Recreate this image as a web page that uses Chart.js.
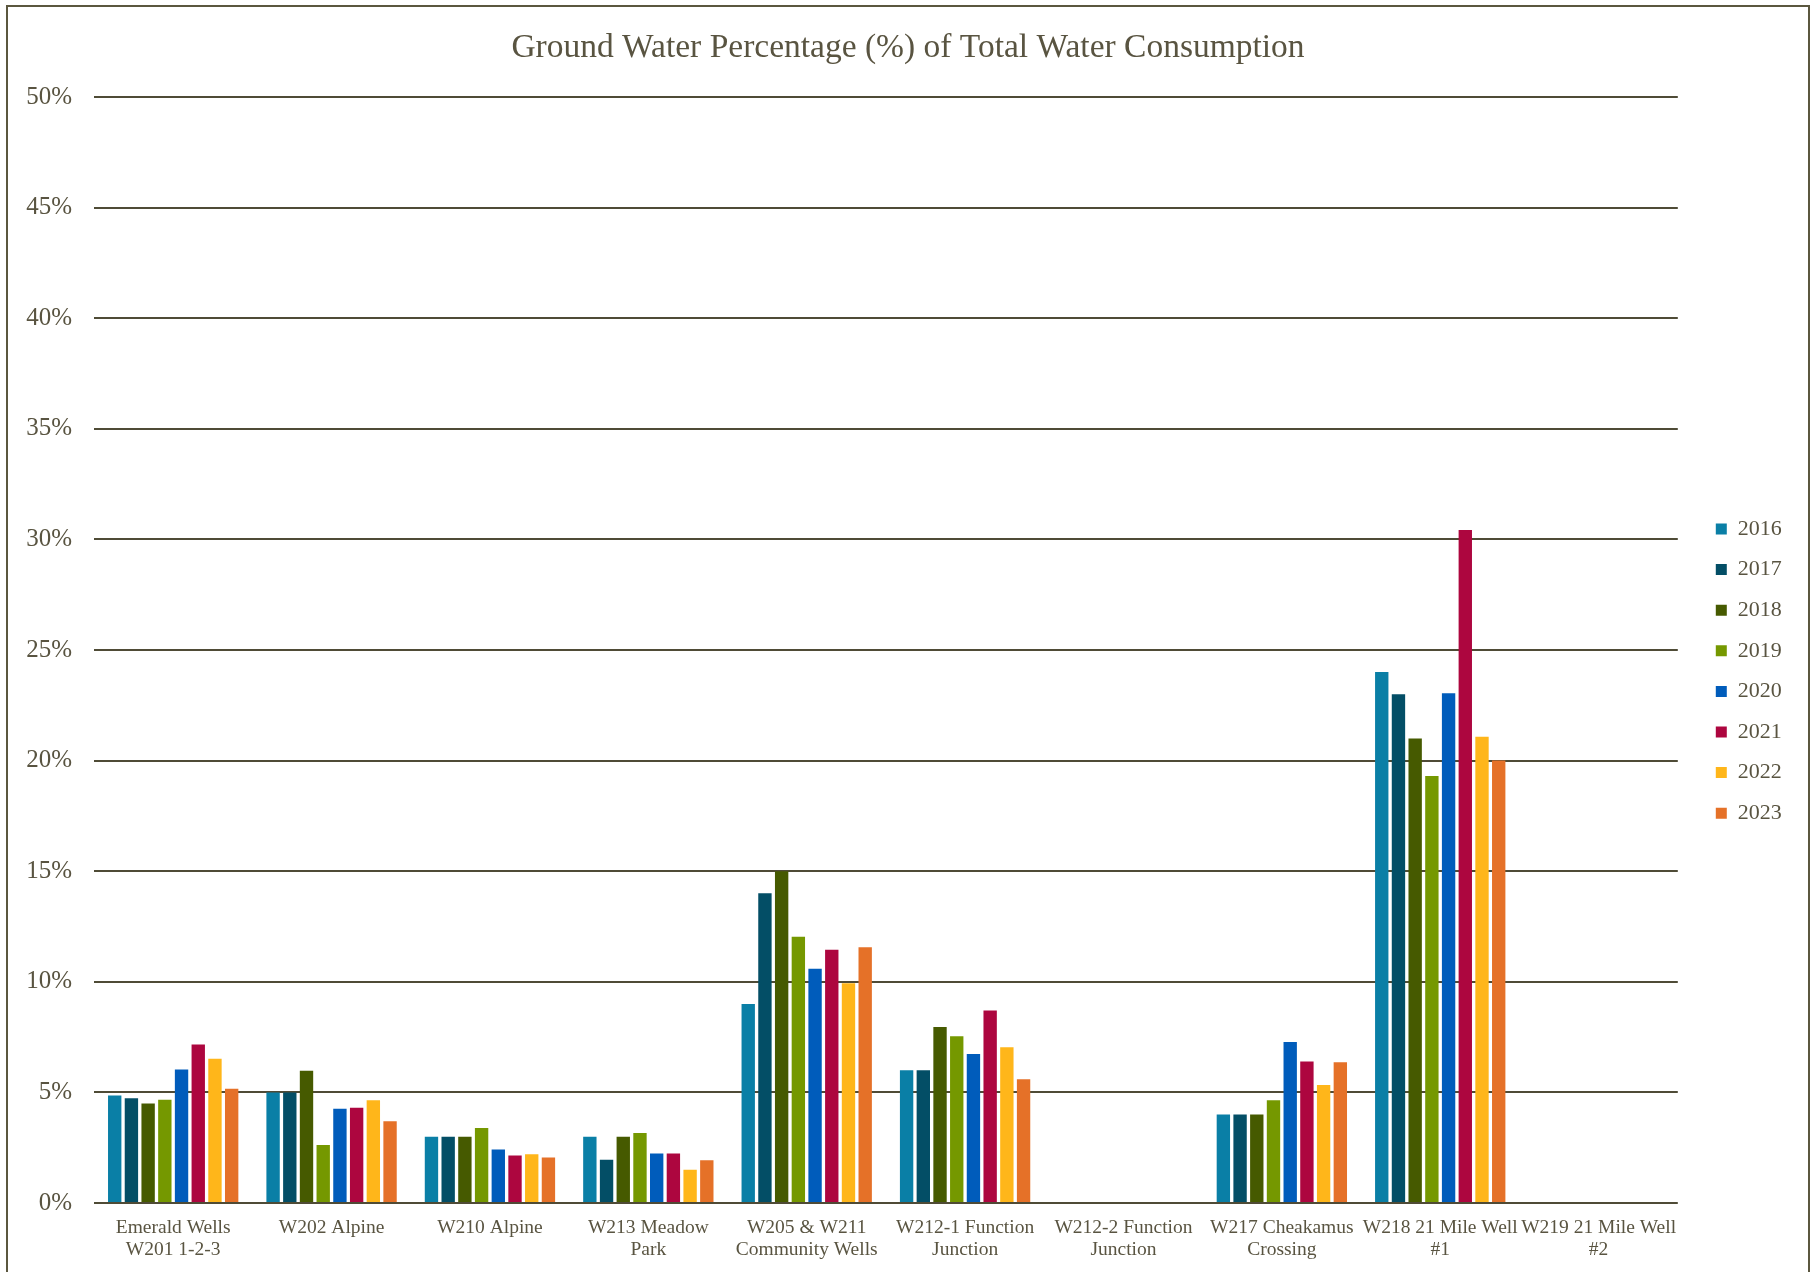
<!DOCTYPE html>
<html>
<head>
<meta charset="utf-8">
<title>Ground Water Percentage</title>
<script src="https://cdn.jsdelivr.net/npm/chart.js@4.4.1/dist/chart.umd.min.js"></script>
<style>
  html, body { margin: 0; padding: 0; background: #fff; overflow: hidden; }
  #wrap { position: relative; width: 1814px; height: 1272px; }
  #frame { position: absolute; left: 6px; top: 5px; width: 1800px; height: 1300px; border: 2px solid #5b573f; pointer-events: none; }
</style>
</head>
<body>
<div id="wrap">
  <canvas id="chart"></canvas>
  <div id="frame"></div>
</div>
<script>
const wells = [
  ['Emerald Wells', 'W201 1-2-3'],
  ['W202 Alpine'],
  ['W210 Alpine'],
  ['W213 Meadow', 'Park'],
  ['W205 & W211', 'Community Wells'],
  ['W212-1 Function', 'Junction'],
  ['W212-2 Function', 'Junction'],
  ['W217 Cheakamus', 'Crossing'],
  ['W218 21 Mile Well', '#1'],
  ['W219 21 Mile Well', '#2']
];
const years = ['2016', '2017', '2018', '2019', '2020', '2021', '2022', '2023'];

// percent of total consumption, null = no ground water
const y2016 = [4.86, 5.0, 3.0, 3.0, 9.0, 6.0, null, 4.0, 24.0, null];
const y2017 = [4.74, 5.0, 3.0, 1.95, 14.0, 6.0, null, 4.0, 23.0, null];
const y2018 = [4.5, 5.98, 3.0, 3.0, 15.0, 7.96, null, 4.0, 21.0, null];
const y2019 = [4.67, 2.62, 3.39, 3.17, 12.04, 7.54, null, 4.64, 19.3, null];
const y2020 = [6.04, 4.26, 2.42, 2.24, 10.59, 6.74, null, 7.28, 23.05, null];
const y2021 = [7.17, 4.31, 2.15, 2.24, 11.45, 8.7, null, 6.4, 30.42, null];
const y2022 = [6.52, 4.65, 2.2, 1.5, 9.94, 7.04, null, 5.33, 21.08, null];
const y2023 = [5.17, 3.7, 2.06, 1.93, 11.56, 5.6, null, 6.36, 20.0, null];

const yTicks = [0, 5, 10, 15, 20, 25, 30, 35, 40, 45, 50];

const series = [y2016, y2017, y2018, y2019, y2020, y2021, y2022, y2023];
const colors = ['#0a7fa6', '#034e66', '#465a00', '#759800', '#005cbb', '#ad063f', '#ffb61a', '#e57128'];

const textColor = '#595441';
const lineColor = '#4f4b36';
const serif = "'Liberation Serif', 'Times New Roman', serif";

Chart.defaults.font.family = serif;
Chart.defaults.color = textColor;

new Chart(document.getElementById('chart').getContext('2d'), {
  type: 'bar',
  data: {
    labels: wells,
    datasets: years.map((yr, i) => ({
      label: yr,
      data: series[i],
      backgroundColor: colors[i],
      borderWidth: 0,
      barPercentage: 0.8,
      categoryPercentage: 0.844
    }))
  },
  options: {
    responsive: true,
    maintainAspectRatio: false,
    animation: false,
    layout: { padding: { left: 24.2, right: 22.2, top: 0, bottom: 0 } },
    plugins: {
      title: {
        display: true,
        text: 'Ground Water Percentage (%) of Total Water Consumption',
        color: textColor,
        font: { size: 33.5, weight: 'normal' },
        padding: { top: 28.1, bottom: 28.7 }
      },
      legend: {
        position: 'right',
        fullSize: false,
        title: { display: true, text: '', font: { size: 10 }, padding: { top: 30.2, bottom: 0 } },
        labels: {
          boxWidth: 11,
          boxHeight: 11,
          padding: 18.6,
          color: textColor,
          font: { size: 22 }
        }
      },
      tooltip: { enabled: false }
    },
    scales: {
      x: {
        grid: { display: false, drawTicks: false },
        border: { display: false },
        ticks: { color: textColor, font: { size: 19.5, lineHeight: 1.13 }, padding: 14, maxRotation: 0, autoSkip: false },
        afterFit: s => { s.height = 69; }
      },
      y: {
        min: 0,
        max: 50,
        afterBuildTicks: s => { s.ticks = yTicks.map(v => ({ value: v })); },
        grid: { color: lineColor, lineWidth: 2, drawTicks: false },
        border: { display: false },
        ticks: { color: textColor, font: { size: 25 }, padding: 22, callback: v => v + '%' },
        afterFit: s => { s.width = 69.8; }
      },
      gap: {
        position: 'right',
        display: true,
        grid: { display: false, drawTicks: false },
        border: { display: false },
        ticks: { display: false },
        afterFit: s => { s.width = 19.4; }
      }
    }
  }
});
</script>
</body>
</html>
